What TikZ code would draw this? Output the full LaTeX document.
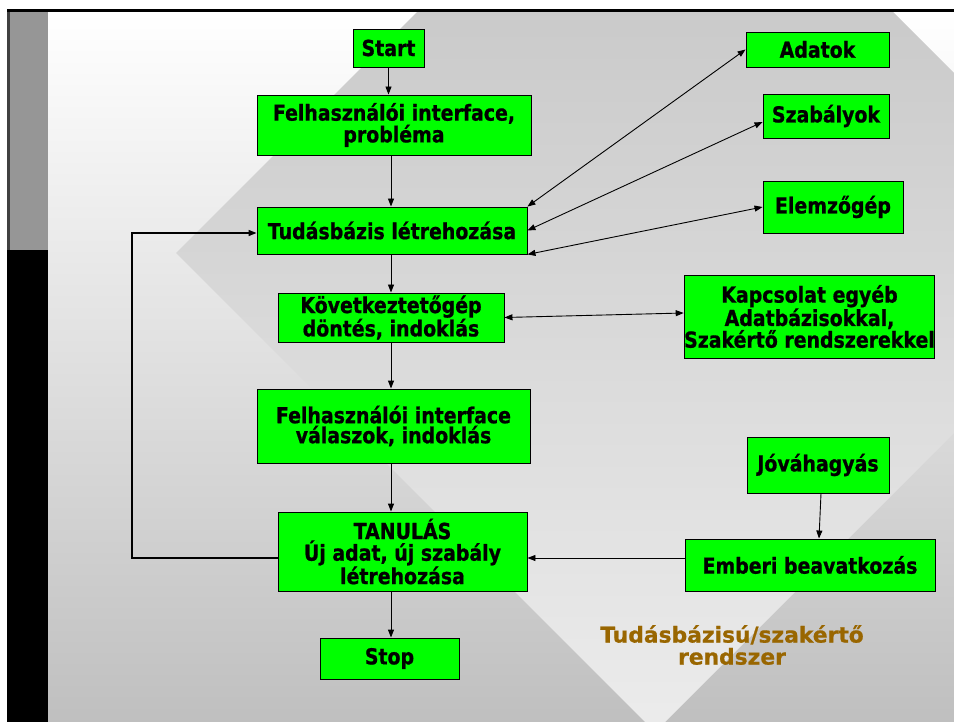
\documentclass[tikz,border=0pt]{standalone}
\usepackage{fontspec}
\newfontfamily\nodefont[FakeStretch=0.86,FakeBold=0.8]{DejaVu Sans Bold}
\newfontfamily\titlefont[FakeBold=0.8]{DejaVu Sans Bold}
\usetikzlibrary{arrows.meta,calc}
\definecolor{boxgreen}{HTML}{00FF00}
\definecolor{titlebrown}{HTML}{996600}
\begin{document}
\begin{tikzpicture}[x=1pt,y=-1pt,
  box/.style={draw=black,line width=0.9pt,fill=boxgreen,inner sep=0pt,align=center,
    font=\nodefont\fontsize{22}{20}\selectfont},
  arr/.style={line width=0.9pt,-{Triangle[length=8pt,width=6pt]}},
  darr/.style={line width=0.9pt,{Triangle[length=8pt,width=6pt]}-{Triangle[length=8pt,width=6pt]}},
  loopline/.style={line width=1.3pt,-{Triangle[length=8pt,width=6pt]}}]
\useasboundingbox (0,0) rectangle (954,722);
\fill[white] (0,0) rectangle (954,722);
% background
\shade[top color=white,bottom color=black!25] (48,12) rectangle (954,722);
\begin{scope}
  \clip (48,12) rectangle (954,722);
  \shade[top color=black!25,bottom color=black!7.5]
    (655,-226) -- (1134,253) -- (655,732) -- (176,253) -- cycle;
\end{scope}
% frame
\fill[black!41] (7,9.5) rectangle (48,250);
\fill[black] (7,250) rectangle (48,722);
\fill[black!75] (7,9.5) rectangle (9.5,250);
\fill[black] (7,9.5) rectangle (954,12.5);
% nodes
\node[box,minimum width=71pt,minimum height=38pt] (start) at (388.5,48) {Start};
\node[box,minimum width=274pt,minimum height=60pt] (felh1) at (394,125) {Felhasználói interface,\\probléma};
\node[box,minimum width=270pt,minimum height=47pt] (tudas) at (392,230.5) {Tudásbázis létrehozása};
\node[box,minimum width=226pt,minimum height=49pt] (kovet) at (391,317.5) {Következtetőgép\\döntés, indoklás};
\node[box,minimum width=273pt,minimum height=74pt] (felh2) at (393.5,426) {Felhasználói interface\\válaszok, indoklás};
\node[box,minimum width=249pt,minimum height=79pt] (tanul) at (402.5,551.5) {TANULÁS\\Új adat, új szabály\\létrehozása};
\node[box,minimum width=139pt,minimum height=41pt] (stop) at (389.5,658.5) {Stop};
\node[box,minimum width=143pt,minimum height=35pt] (adatok) at (817.5,49.5) {Adatok};
\node[box,minimum width=126pt,minimum height=44pt] (szab) at (826,116) {Szabályok};
\node[box,minimum width=140pt,minimum height=52pt] (elemz) at (833,207) {Elemzőgép};
\node[box,minimum width=249pt,minimum height=83pt] (kapcs) at (809.5,316.5) {Kapcsolat egyéb\\Adatbázisokkal,\\Szakértő rendszerekkel};
\node[box,minimum width=142pt,minimum height=56pt] (jova) at (818,465) {Jóváhagyás};
\node[box,minimum width=250pt,minimum height=52pt] (ember) at (810,565) {Emberi beavatkozás};
\node[font=\titlefont\fontsize{21.8}{22}\selectfont,text=titlebrown,align=center,inner sep=0pt] (title) at (732,645) {Tudásbázisú/szakértő\\rendszer};
% vertical flow
\draw[arr] (start.south) -- (start.south |- felh1.north);
\draw[arr] (felh1.south -| kovet.center) -- (tudas.north -| kovet.center);
\draw[arr] (tudas.south -| kovet.center) -- (kovet.north);
\draw[arr] (kovet.south) -- (felh2.north -| kovet.center);
\draw[arr] (felh2.south -| kovet.center) -- (tanul.north -| kovet.center);
\draw[arr] (tanul.south -| kovet.center) -- (stop.north -| kovet.center);
% side links
\draw[darr] (tudas.north east) -- (adatok.west);
\draw[darr] (tudas.east) -- ([yshift=-6pt]szab.west);
\draw[darr] (tudas.south east) -- (elemz.west);
\draw[darr] (kovet.east) -- ([yshift=3.5pt]kapcs.west);
% loop
\coordinate (loopc) at (132,558);
\draw[loopline] ([yshift=-6.5pt]tanul.west) -- (loopc) |- ([yshift=-2.5pt]tudas.west);
% human intervention
\draw[arr] ([xshift=3pt]jova.south) -- ([xshift=9pt]ember.north);
\draw[arr] ([yshift=7pt]ember.west) -- ([yshift=-6.5pt]tanul.east);
\end{tikzpicture}
\end{document}
